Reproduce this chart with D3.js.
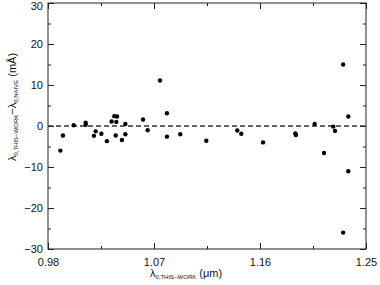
<!DOCTYPE html>
<html lang="en">
<head>
<meta charset="UTF-8">
<title>lambda difference</title>
<script src="https://d3js.org/d3.v7.min.js"></script>
<style>
html, body { margin: 0; padding: 0; background: white; }
body { font-family: 'Liberation Sans', Arial, sans-serif; }
.tick text { font-size: 11px; fill: #111; }
.axis path { display: none; }
.axis line { stroke: #222; stroke-width: 1; }
.lab { font-size: 11px; fill: #111; }
</style>
</head>
<body>
<div id="chart"></div>
<script>

// data
let lam = [0.9905, 0.9927, 1.0018, 1.012, 1.012, 1.019, 1.0205, 1.0253, 1.030, 1.034,
           1.0363, 1.0386, 1.038, 1.0375, 1.0428, 1.0457, 1.0457, 1.0607, 1.0646,
           1.0751, 1.081, 1.081, 1.0923, 1.1144, 1.1407, 1.1441,
           1.1626, 1.19, 1.1905, 1.2064, 1.2144, 1.2222, 1.2237, 1.235, 1.2306, 1.235, 1.2306];
let diff = [-6.0, -2.3, 0.2, 0.8, 0.3, -2.4, -1.3, -1.9, -3.7, 1.1,
            2.4, 2.3, 1.0, -2.3, -3.4, 0.5, -2.0, 1.6, -1.05,
            11.1, 3.1, -2.6, -2.0, -3.6, -1.1, -1.9,
            -4.0, -1.8, -2.2, 0.5, -6.6, -0.15, -1.2, 2.3, 15.0, -11.05, -26.0];

let xTicks = [0.98, 1.07, 1.16, 1.25];
let xMinor = [1.025, 1.115, 1.205];
let yTicks = [-30, -20, -10, 0, 10, 20, 30];
let yMinor = [-25, -15, -5, 5, 15, 25];

let totalWidth = 380, totalHeight = 285;
let margin = {top: 3, right: 14, bottom: 36, left: 48};

let svg = d3.select("#chart").append("svg")
  .attr("width", totalWidth)
  .attr("height", totalHeight);

let x = d3.scaleLinear().domain([0.98, 1.25]).range([margin.left, totalWidth - margin.right]);
let y = d3.scaleLinear().domain([-30, 30]).range([totalHeight - margin.bottom, margin.top]);

let x0 = x.range()[0], x1 = x.range()[1];
let y0 = y.range()[1], y1 = y.range()[0];

// axes, ticks pointing inward on all four sides
function ax(gen, tr, vals, size, fmt, pad) {
  return svg.append("g")
    .attr("class", "axis")
    .attr("transform", tr)
    .call(gen.tickValues(vals).tickSize(size).tickPadding(pad || 0)
      .tickFormat(fmt ? d3.format(fmt) : ""));
}

ax(d3.axisBottom(x), `translate(0,${y1})`, xTicks, -6, ".2f", 9);
ax(d3.axisBottom(x), `translate(0,${y1})`, xMinor, -3);
ax(d3.axisTop(x), `translate(0,${y0})`, xTicks, -6);
ax(d3.axisTop(x), `translate(0,${y0})`, xMinor, -3);

ax(d3.axisLeft(y), `translate(${x0},0)`, yTicks, -6, "d", 5)
  .selectAll("text")
  .text(d => d < 0 ? "\u2212" + Math.abs(d) : d)
  .attr("dy", d => d == 30 ? "0.62em" : "0.32em");
ax(d3.axisLeft(y), `translate(${x0},0)`, yMinor, -3);
ax(d3.axisRight(y), `translate(${x1},0)`, yTicks, -6);
ax(d3.axisRight(y), `translate(${x1},0)`, yMinor, -3);

// frame
svg.append("rect")
  .attr("x", x0).attr("y", y0)
  .attr("width", x1 - x0).attr("height", y1 - y0)
  .attr("fill", "none").attr("stroke", "#222").attr("stroke-width", 1);

// zero line
svg.append("line")
  .attr("x1", x0).attr("x2", x1)
  .attr("y1", y(0)).attr("y2", y(0))
  .attr("stroke", "#333").attr("stroke-width", 1.5)
  .attr("stroke-dasharray", "5,3");

// points
svg.selectAll(".pt")
  .data(lam)
  .join("circle")
  .attr("class", "pt")
  .attr("cx", d => x(d))
  .attr("cy", (d, i) => y(diff[i]))
  .attr("r", 2.2)
  .attr("fill", "#000");

// axis labels
let xl = svg.append("text")
  .attr("class", "lab")
  .attr("x", 186)
  .attr("y", 277)
  .attr("text-anchor", "middle");
xl.append("tspan").text("\u03bb");
xl.append("tspan").attr("font-size", "6px").attr("dy", 2).text("0,THIS\u2212WORK");
xl.append("tspan").attr("dy", -2).text(" (\u03bcm)");

let yl = svg.append("text")
  .attr("class", "lab")
  .attr("transform", `translate(16,107) rotate(-90)`)
  .attr("text-anchor", "middle");
yl.append("tspan").text("\u03bb");
yl.append("tspan").attr("font-size", "6px").attr("dy", 2).text("0,THIS\u2212WORK");
yl.append("tspan").attr("dy", -2).text("\u2212\u03bb");
yl.append("tspan").attr("font-size", "6px").attr("dy", 2).text("0,NAIVE");
yl.append("tspan").attr("dy", -2).text(" (m\u00c5)");

</script>
</body>
</html>
